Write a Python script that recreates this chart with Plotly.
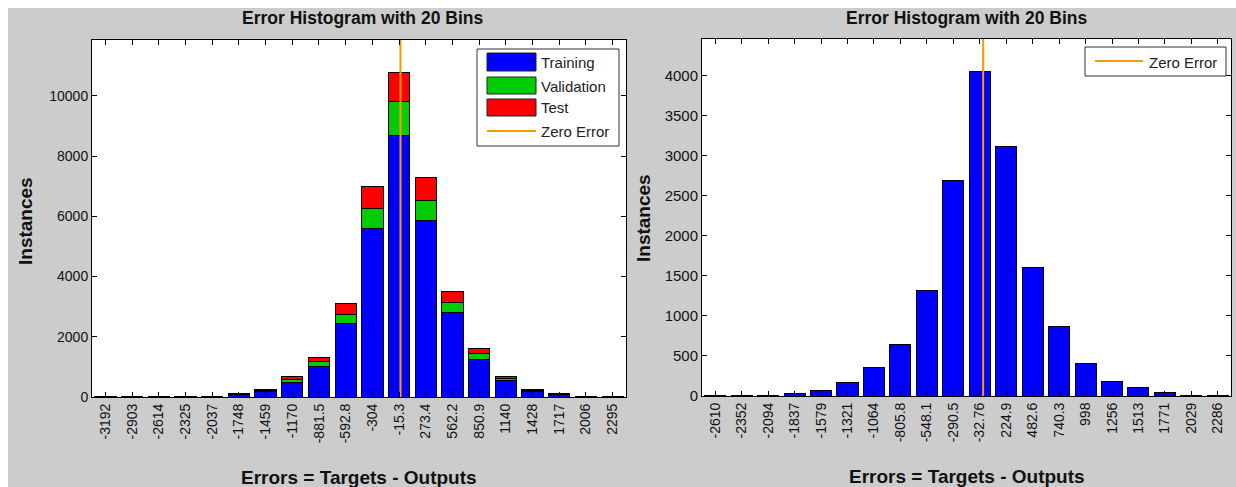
import plotly.graph_objects as go

# ---- data: left histogram (stacked by data split) ----
left_bins = ["-3192", "-2903", "-2614", "-2325", "-2037", "-1748", "-1459", "-1170",
             "-881.5", "-592.8", "-304", "-15.3", "273.4", "562.2", "850.9", "1140",
             "1428", "1717", "2006", "2295"]
training = [8, 15, 3, 8, 15, 80, 170, 480, 1015, 2440, 5610, 8700, 5850, 2800, 1250, 560,
            175, 75, 8, 6]
validation = [1, 3, 1, 2, 3, 17, 35, 110, 165, 310, 650, 1100, 680, 330, 180, 70,
              35, 15, 1, 1]
test = [1, 2, 0, 1, 2, 13, 35, 80, 120, 350, 730, 980, 770, 390, 170, 40,
        30, 10, 1, 1]

# ---- data: right histogram ----
right_bins = ["-2610", "-2352", "-2094", "-1837", "-1579", "-1321", "-1064", "-805.8",
              "-548.1", "-290.5", "-32.76", "224.9", "482.6", "740.3", "998", "1256",
              "1513", "1771", "2029", "2286"]
right_counts = [5, 8, 10, 32, 72, 170, 352, 644, 1315, 2692, 4055, 3118, 1605, 870, 400,
                186, 106, 47, 8, 8]

left_yticks = [0, 2000, 4000, 6000, 8000, 10000]
right_yticks = [0, 500, 1000, 1500, 2000, 2500, 3000, 3500, 4000]

W, H = 1236, 487
FONT = "Liberation Sans, Arial, sans-serif"
BLUE, GREEN, RED, ORANGE = "#0000ff", "#00cc00", "#ff0000", "#ff9900"
GRAY = "#cccccc"


def fx(px):
    return px / W


def fy(py):
    return 1 - py / H


lx = [float(v) for v in left_bins]
rx = [float(v) for v in right_bins]
lstep = (lx[-1] - lx[0]) / (len(lx) - 1)
rstep = (rx[-1] - rx[0]) / (len(rx) - 1)

left_top = max(t + v + s for t, v, s in zip(training, validation, test)) * 1.1
right_top = max(right_counts) * 1.1

bar_line = dict(color="black", width=1)
fig = go.Figure()
fig.add_trace(go.Bar(x=lx, y=training, name="Training", marker=dict(color=BLUE, line=bar_line),
                     xaxis="x", yaxis="y"))
fig.add_trace(go.Bar(x=lx, y=validation, name="Validation", marker=dict(color=GREEN, line=bar_line),
                     xaxis="x", yaxis="y"))
fig.add_trace(go.Bar(x=lx, y=test, name="Test", marker=dict(color=RED, line=bar_line),
                     xaxis="x", yaxis="y"))
fig.add_trace(go.Scatter(x=[0, 0], y=[0, left_top], mode="lines", name="Zero Error",
                         line=dict(color=ORANGE, width=2), xaxis="x", yaxis="y",
                         cliponaxis=False))

fig.add_trace(go.Bar(x=rx, y=right_counts, name="Errors", marker=dict(color=BLUE, line=bar_line),
                     xaxis="x2", yaxis="y2"))
fig.add_trace(go.Scatter(x=[0, 0], y=[0, right_top], mode="lines", name="Zero Error",
                         line=dict(color=ORANGE, width=2), xaxis="x2", yaxis="y2",
                         cliponaxis=False))

axis_common = dict(showline=True, linecolor="black", linewidth=1, mirror="ticks",
                   ticks="inside", ticklen=5, tickwidth=1, tickcolor="black",
                   showgrid=False, zeroline=False, automargin=False,
                   tickfont=dict(family=FONT, size=14, color="#111111"))

fig.update_layout(
    width=W, height=H,
    margin=dict(l=0, r=0, t=0, b=0),
    paper_bgcolor=GRAY, plot_bgcolor="white",
    barmode="stack", bargap=0.2,
    showlegend=False,
    font=dict(family=FONT, color="#111111"),
    xaxis=dict(domain=[fx(92), fx(626)], anchor="y",
               range=[lx[0] - 0.5 * lstep, lx[-1] + 0.5 * lstep],
               tickvals=lx, ticktext=left_bins, tickangle=-90, **axis_common),
    yaxis=dict(domain=[fy(397), fy(40)], anchor="x", range=[0, left_top],
               tickvals=left_yticks, tickformat="d", **axis_common),
    xaxis2=dict(domain=[fx(702), fx(1231)], anchor="y2",
                range=[rx[0] - 0.5 * rstep, rx[-1] + 0.5 * rstep],
                tickvals=rx, ticktext=right_bins, tickangle=-90, **axis_common),
    yaxis2=dict(domain=[fy(396), fy(39)], anchor="x2", range=[0, right_top],
                tickvals=right_yticks, tickformat="d", **axis_common),
)
fig.update_layout(yaxis2_tickfont=dict(family=FONT, size=15, color="#111111"))

shapes = [
    # white border strips around the grey canvas
    dict(type="rect", xref="paper", yref="paper", x0=0, x1=fx(8), y0=0, y1=1,
         fillcolor="white", line=dict(width=0), layer="below"),
    dict(type="rect", xref="paper", yref="paper", x0=0, x1=1, y0=fy(8), y1=1,
         fillcolor="white", line=dict(width=0), layer="below"),
    # left legend frame
    dict(type="rect", xref="paper", yref="paper", x0=fx(477), x1=fx(619), y0=fy(146), y1=fy(49),
         fillcolor="white", line=dict(color="#333333", width=1)),
    # right legend frame
    dict(type="rect", xref="paper", yref="paper", x0=fx(1085), x1=fx(1226), y0=fy(76), y1=fy(47),
         fillcolor="white", line=dict(color="#333333", width=1)),
    # right legend line sample
    dict(type="line", xref="paper", yref="paper", x0=fx(1095), x1=fx(1143), y0=fy(61), y1=fy(61),
         line=dict(color=ORANGE, width=2)),
    # left legend line sample
    dict(type="line", xref="paper", yref="paper", x0=fx(487), x1=fx(536), y0=fy(131), y1=fy(131),
         line=dict(color=ORANGE, width=2)),
]
swatches = [(BLUE, 53, 71), (GREEN, 77, 94), (RED, 99, 116)]
for color, y0, y1 in swatches:
    shapes.append(dict(type="rect", xref="paper", yref="paper", x0=fx(487), x1=fx(536),
                       y0=fy(y1), y1=fy(y0), fillcolor=color, line=dict(color="#222222", width=1)))
fig.update_layout(shapes=shapes)

annotations = []


def text(x, y, s, size, bold=False, angle=0, xanchor="center", color="#111111"):
    annotations.append(dict(
        x=fx(x), y=fy(y), xref="paper", yref="paper", showarrow=False,
        text=f"<b>{s}</b>" if bold else s, textangle=angle,
        xanchor=xanchor, yanchor="middle",
        font=dict(family=FONT, size=size, color=color)))


# titles and axis labels
text(362, 18, "Error Histogram with 20 Bins", 17.5, bold=True)
text(966, 18, "Error Histogram with 20 Bins", 17.5, bold=True)
text(359, 477, "Errors = Targets - Outputs", 19, bold=True)
text(967, 476, "Errors = Targets - Outputs", 19, bold=True)
text(25, 221, "Instances", 19, bold=True, angle=-90)
text(643, 218, "Instances", 19, bold=True, angle=-90)

# legend labels
for label, y in [("Training", 63), ("Validation", 86), ("Test", 108), ("Zero Error", 131)]:
    text(539, y, label, 15, xanchor="left", color="#222222")
text(1147, 62, "Zero Error", 15, xanchor="left", color="#222222")

fig.update_layout(annotations=annotations)

fig.write_html("out.html")
